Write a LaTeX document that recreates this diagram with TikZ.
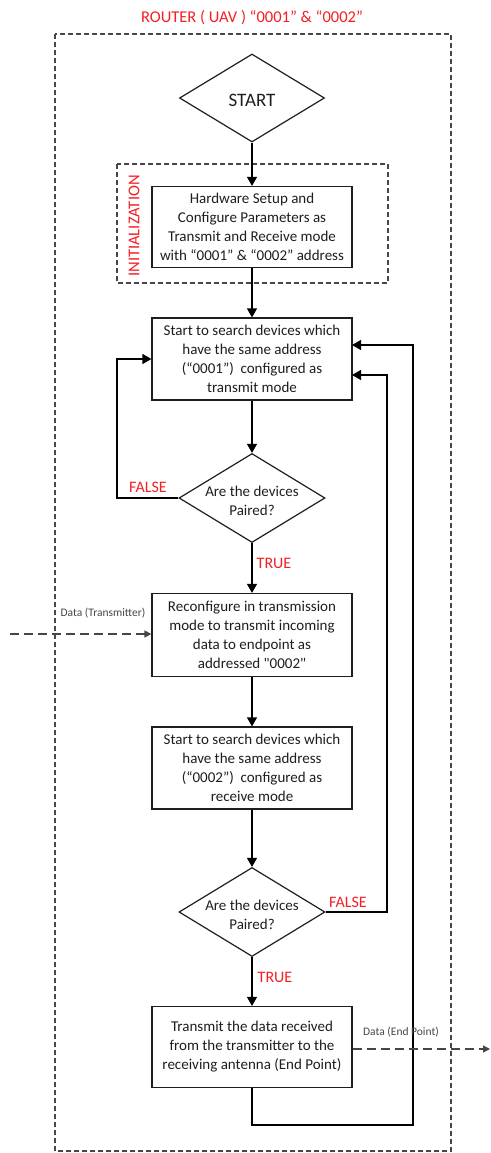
\documentclass[tikz,border=0pt]{standalone}
\usepackage{fontspec}
\setmainfont{Carlito}
\usetikzlibrary{arrows.meta,shapes.geometric}
\definecolor{flowred}{RGB}{245,30,35}
\definecolor{ink}{RGB}{30,30,30}
\definecolor{dashgray}{RGB}{70,70,70}

\begin{document}
\begin{tikzpicture}[x=1pt,y=-1pt,
  stepbox/.style={draw=ink, line width=1.2pt, fill=white, minimum width=200pt,
    minimum height=82pt, inner sep=0pt, align=center, text=ink,
    font=\fontsize{15}{19}\selectfont},
  decision/.style={draw=ink, line width=1.2pt, diamond, minimum width=146pt,
    minimum height=89pt, inner sep=0pt},
  dtext/.style={align=center, text=ink, font=\fontsize{15}{19}\selectfont},
  flow/.style={draw=black, line width=1.2pt, -{Triangle[width=10pt,length=9pt]}},
  frame/.style={draw=dashgray, line width=1.2pt, dash pattern=on 5pt off 3pt},
  dataflow/.style={draw=dashgray, line width=1.3pt, dash pattern=on 9pt off 5pt,
    -{Triangle[width=7pt,length=7pt]}},
  redlabel/.style={text=flowred, font=\fontsize{16}{18}\selectfont},
  datalabel/.style={text=dashgray, font=\fontsize{11.5}{13}\selectfont}
]
\useasboundingbox (0,0) rectangle (490,1153);

% frames
\node[text=flowred, font=\fontsize{16.5}{19}\selectfont] (title) at (252,18) {ROUTER ( UAV ) “0001” \& “0002”};
\draw[frame] (55,34) rectangle (451,1151);
\draw[frame] (117,164) rectangle (388,283);
\node[redlabel, rotate=90, font=\fontsize{16.5}{19}\selectfont] (initlbl) at (134,226) {INITIALIZATION};

% flow nodes
\node[decision, minimum width=145pt, minimum height=88pt] (start) at (252,98) {};
\node[text=ink, font=\fontsize{19}{22}\selectfont] (starttxt) at (252,100) {START};
\node[stepbox, minimum height=81pt] (b1) at (252,227) {Hardware Setup and\\Configure Parameters as\\Transmit and Receive mode\\with “0001” \& “0002” address};
\node[stepbox] (b2) at (252,359) {Start to search devices which\\have the same address\\(“0001”)\ \ configured as\\transmit mode};
\node[decision] (d1) at (252,498) {};
\node[dtext] (d1t) at (252,501) {Are the devices\\Paired?};
\node[stepbox, minimum height=83pt] (b3) at (252,635) {Reconfigure in transmission\\mode to transmit incoming\\data to endpoint as\\addressed \textquotedbl 0002\textquotedbl};
\node[stepbox] (b4) at (252,768) {Start to search devices which\\have the same address\\(“0002”)\ \ configured as\\receive mode};
\node[decision] (d2) at (252,912) {};
\node[dtext] (d2t) at (252,915) {Are the devices\\Paired?};
\node[stepbox, minimum height=81pt] (b5) at (252,1047) {Transmit the data received\\from the transmitter to the\\receiving antenna (End Point)};

% main flow
\draw[flow] (start.south) -- (b1.north);
\draw[flow] (b1.south) -- (b2.north);
\draw[flow] (b2.south) -- (d1.north);
\draw[flow] (d1.south) -- (b3.north);
\draw[flow] (b3.south) -- (b4.north);
\draw[flow] (b4.south) -- (d2.north);
\draw[flow] (d2.south) -- (b5.north);

% loops back to the first search
\coordinate (l1) at (117,498);
\coordinate (l1t) at (117,359);
\draw[flow] (d1.west) -- (l1) -- (l1t) -- (b2.west);
\coordinate (r1) at (387,912);
\coordinate (r1t) at (387,375);
\coordinate (b2r1) at (352,375);
\draw[flow] (d2.east) -- (r1) -- (r1t) -- (b2r1);
\coordinate (r2a) at (252,1125);
\coordinate (r2b) at (413,1125);
\coordinate (r2t) at (413,345);
\coordinate (b2r2) at (352,345);
\draw[flow] (b5.south) -- (r2a) -- (r2b) -- (r2t) -- (b2r2);

% branch labels
\node[redlabel] (f1) at (148,487) {FALSE};
\node[redlabel] (t1) at (274,563) {TRUE};
\node[redlabel] (f2) at (348,902) {FALSE};
\node[redlabel] (t2) at (275,977) {TRUE};

% data in / out
\coordinate (din) at (10,634);
\draw[dataflow] (din) -- (b3.west |- din);
\node[datalabel] (dinlbl) at (103,613) {Data (Transmitter)};
\coordinate (dout) at (490,1049);
\draw[dataflow] (b5.east |- dout) -- (dout);
\node[datalabel] (doutlbl) at (401,1032) {Data (End Point)};
\end{tikzpicture}
\end{document}
